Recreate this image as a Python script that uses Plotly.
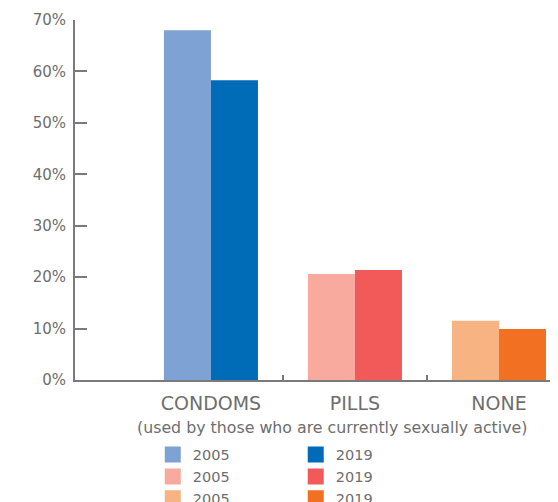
import plotly.graph_objects as go

categories = ["CONDOMS", "PILLS", "NONE"]
years = ["2005", "2019"]
values_2005 = [68.0, 20.6, 11.5]
values_2019 = [58.3, 21.4, 9.9]
colors_2005 = ["#7EA2D4", "#F9AA9E", "#F7B382"]
colors_2019 = ["#006BB6", "#F15A59", "#F27022"]
y_ticks = [0, 10, 20, 30, 40, 50, 60, 70]
y_tick_labels = [f"{v}%" for v in y_ticks]
subtitle = "(used by those who are currently sexually active)"

GRAY = "#6E6E6E"
AXIS = "#7A7A7A"
FONT = "DejaVu Sans"

fig = go.Figure()
for i, cat in enumerate(categories):
    fig.add_trace(go.Bar(x=[cat], y=[values_2005[i]], name=years[0],
                         marker=dict(color=colors_2005[i], line=dict(width=0)),
                         offsetgroup="a", hoverinfo="skip", showlegend=False))
    fig.add_trace(go.Bar(x=[cat], y=[values_2019[i]], name=years[1],
                         marker=dict(color=colors_2019[i], line=dict(width=0)),
                         offsetgroup="b", hoverinfo="skip", showlegend=False))

# legend entries (square swatches): 2005 in first column, 2019 in second
for yr, cols, lg in ((years[0], colors_2005, "legend"), (years[1], colors_2019, "legend2")):
    for i in range(len(categories)):
        fig.add_trace(go.Scatter(x=[None], y=[None], mode="markers", name=yr,
                                 marker=dict(symbol="square", size=16, color=cols[i]),
                                 hoverinfo="skip", legend=lg))

# helper invisible trace for the boundary tick axis
fig.add_trace(go.Scatter(x=[0.5, 1.5], y=[0, 0], xaxis="x2", mode="markers",
                         marker=dict(opacity=0), showlegend=False, hoverinfo="skip"))

xr = [-0.944, 2.41]
legend_common = dict(orientation="v", y=-0.163, yanchor="top", xanchor="left",
                     font=dict(size=14.5, color=GRAY), traceorder="normal",
                     itemwidth=30, tracegroupgap=0, bgcolor="rgba(0,0,0,0)")
fig.update_layout(
    width=550, height=494,
    margin=dict(l=67, r=0, t=12, b=122, autoexpand=False),
    paper_bgcolor="white", plot_bgcolor="white",
    barmode="group", bargap=0.347, bargroupgap=0,
    font=dict(family=FONT, color=GRAY, size=15),
    xaxis=dict(type="category", categoryorder="array", categoryarray=categories,
               range=xr, showline=True, linecolor=AXIS, linewidth=2,
               ticks="", showgrid=False, zeroline=False,
               tickfont=dict(size=19, color=GRAY), ticklabelstandoff=5),
    xaxis2=dict(overlaying="x", anchor="y", range=xr, showline=False,
                tickvals=[0.5, 1.5], ticks="inside", ticklen=5, tickwidth=2,
                tickcolor=AXIS, showticklabels=False, showgrid=False, zeroline=False),
    yaxis=dict(range=[0, 70], tickvals=y_ticks, ticktext=y_tick_labels,
               showline=True, linecolor=AXIS, linewidth=2,
               ticks="inside", ticklen=12, tickwidth=2, tickcolor=AXIS,
               showgrid=False, zeroline=False, tickfont=dict(size=15, color=GRAY),
               ticklabelstandoff=4),
    legend=dict(x=0.161, **legend_common),
    legend2=dict(x=0.457, **legend_common),
    annotations=[dict(text=subtitle, xref="paper", yref="paper", x=0.532,
                      y=-0.1306, xanchor="center", yanchor="middle",
                      showarrow=False, font=dict(size=15.8, color=GRAY))],
)

fig.write_html("out.html")
